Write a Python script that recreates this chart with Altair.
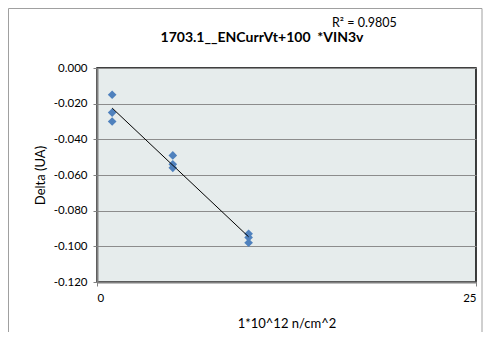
import altair as alt
import pandas as pd

fluence = [1, 1, 1, 5, 5, 5, 10, 10, 10]
delta = [-0.015, -0.025, -0.030, -0.049, -0.054, -0.056, -0.093, -0.095, -0.098]
title_text = "1703.1__ENCurrVt+100\u00a0\u00a0*VIN3v"
r2_text = "R² = 0.9805"
y_ticks = [0.0, -0.02, -0.04, -0.06, -0.08, -0.1, -0.12]
x_ticks = [0, 25]

df = pd.DataFrame({"x": fluence, "y": delta})

W, H = 379, 214
FONT = "Lato"

xs = alt.X("x:Q", scale=alt.Scale(domain=[0, 25], nice=False),
           axis=alt.Axis(values=x_ticks, tickCount=2, title="1*10^12 n/cm^2", grid=False,
                         titleFontWeight="normal", titleFontSize=13, titlePadding=14,
                         labelFontSize=11.5, domainColor="#808080", domainWidth=2,
                         tickColor="#808080", tickSize=4, labelPadding=6, labelColor="#000",
                         labelOverlap=False))
ys = alt.Y("y:Q", scale=alt.Scale(domain=[-0.12, 0], nice=False),
           axis=alt.Axis(values=y_ticks, tickCount=7, title="Delta (UA)",
                         labelExpr="replace(format(datum.value, '.3f'), '\u2212', '-')",
                         titleFontWeight="normal", titleFontSize=13, titlePadding=6,
                         labelFontSize=11.5, gridColor="#8c8c8c", gridWidth=1,
                         domainColor="#808080", domainWidth=2, tickColor="#808080",
                         tickSize=4, labelPadding=6, labelColor="#000",
                         labelOverlap=False))

points = alt.Chart(df).mark_point(shape="diamond", filled=True, size=75,
                                  color="#4F81BD", opacity=1).encode(x=xs, y=ys)

trend = alt.Chart(df).transform_regression("x", "y", extent=[1, 10]).mark_line(
    color="black", strokeWidth=1).encode(x="x:Q", y="y:Q")

r2 = alt.Chart(pd.DataFrame({"t": [r2_text]})).mark_text(
    align="left", baseline="middle", fontSize=12.5, font=FONT, color="#000").encode(
    text="t:N", x=alt.value(235), y=alt.value(-45))

ttl = alt.Chart(pd.DataFrame({"t": [title_text]})).mark_text(
    align="center", baseline="middle", fontSize=14, fontWeight="bold", font=FONT, color="#000").encode(
    text="t:N", x=alt.value(165), y=alt.value(-30))

border = alt.Chart(pd.DataFrame({"a": [0]})).mark_rect(
    fill=None, stroke="#a0a0a0", strokeWidth=1).encode(
    x=alt.value(-88.5), x2=alt.value(W + 6), y=alt.value(-59.5), y2=alt.value(H + 58))

chart = alt.layer(border, points, trend, r2, ttl).properties(
    width=W, height=H,
    padding={"left": 89, "top": 60, "right": 7, "bottom": 50},
    autosize=alt.AutoSizeParams(type="none"),
).configure(background="white").configure_view(
    fill="#E6ECEC", stroke="black", strokeWidth=1.5).configure_axis(
    labelFont=FONT, titleFont=FONT)

chart.save("out.html", embed_options={"renderer": "svg", "actions": False})
